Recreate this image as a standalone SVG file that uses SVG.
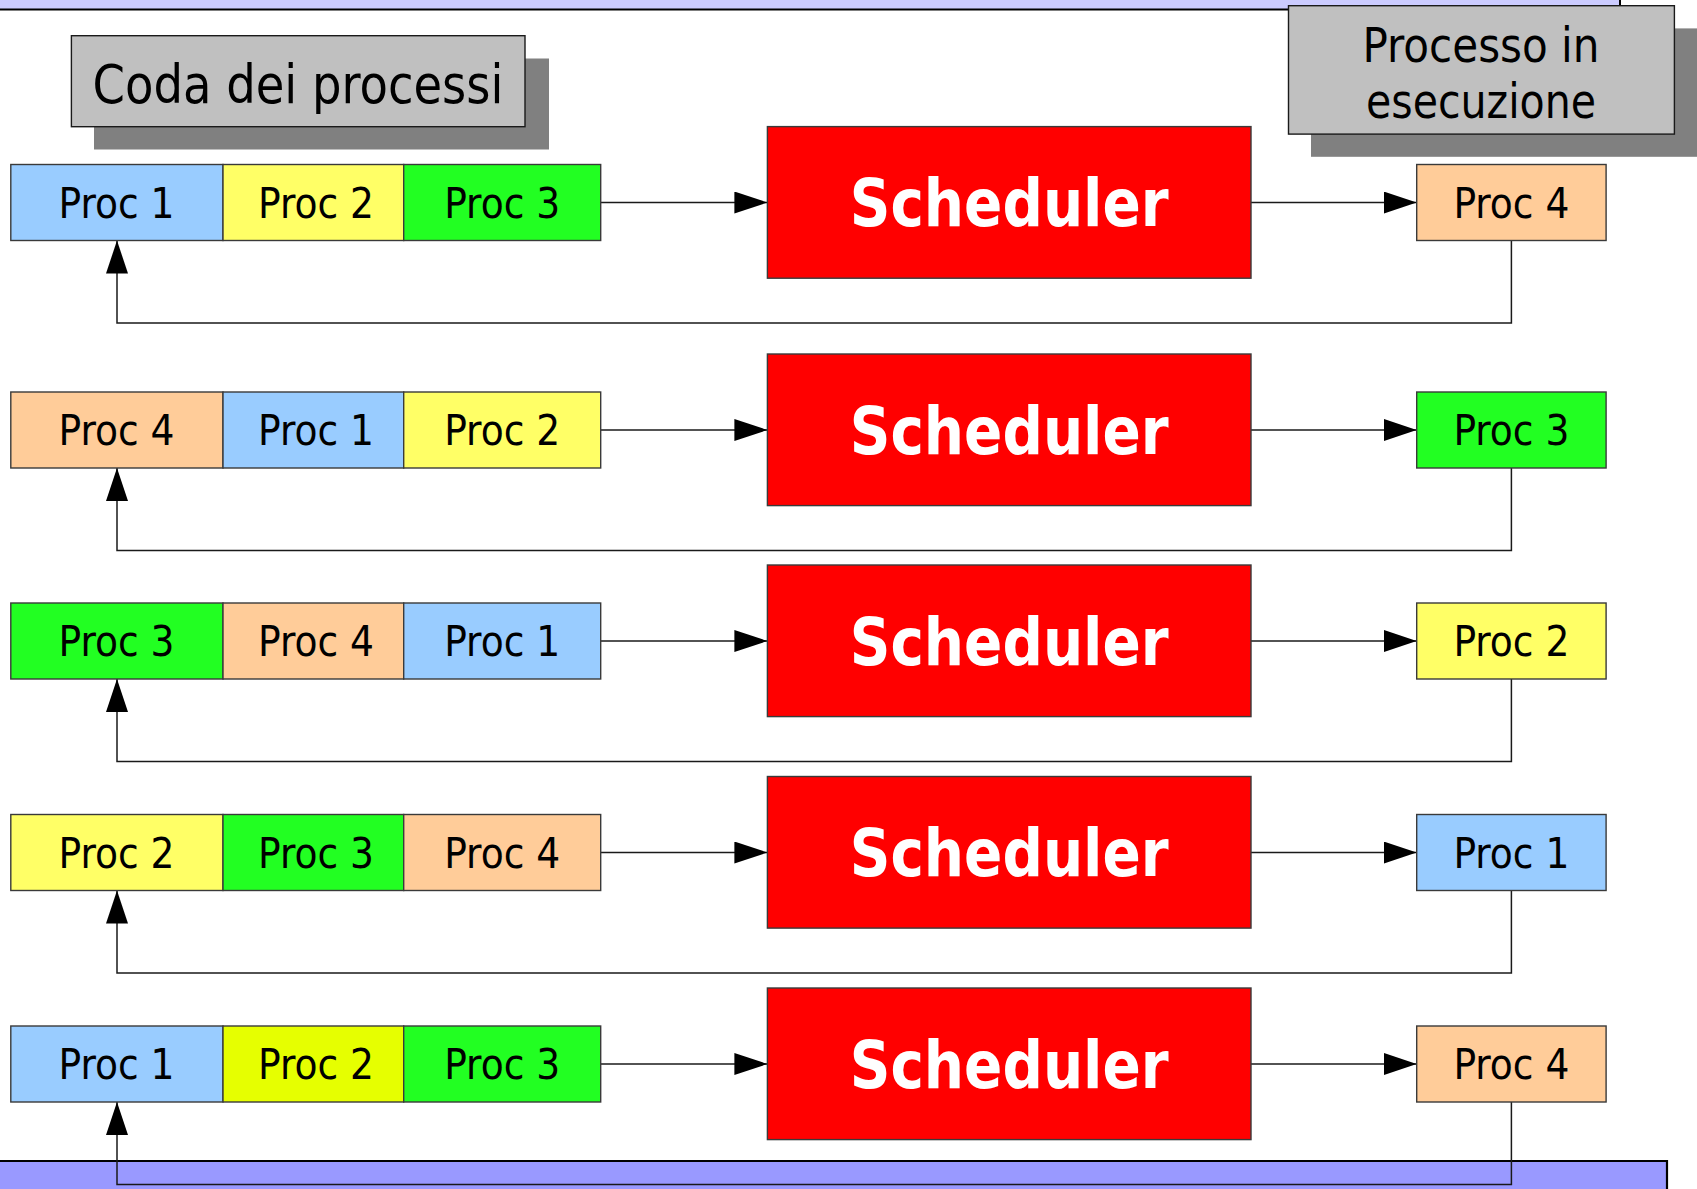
<svg xmlns="http://www.w3.org/2000/svg" width="1697" height="1189" viewBox="0 0 1697 1189">
  <style>
    .box { stroke: #3a3a3a; stroke-width: 1.4; }
    .blue { fill: #99ccff; }
    .yellow { fill: #ffff66; }
    .lime { fill: #e6ff00; }
    .green { fill: #22ff22; }
    .peach { fill: #ffcc99; }
    .sched { fill: #ff0000; stroke: #3a3a3a; stroke-width: 1.4; }
    .label { fill: #c0c0c0; stroke: #1a1a1a; stroke-width: 1.4; }
    .shadow { fill: #808080; }
    .proc { font-family: "DejaVu Sans Condensed", "DejaVu Sans", sans-serif; font-size: 42px; fill: #000; text-anchor: middle; }
    .stxt { font-family: "DejaVu Sans Condensed", "DejaVu Sans", sans-serif; font-weight: bold; font-size: 65px; fill: #fff; text-anchor: middle; }
    .ltxt { font-family: "DejaVu Sans Condensed", "DejaVu Sans", sans-serif; fill: #000; text-anchor: middle; }
    .conn { fill: none; stroke: #1a1a1a; stroke-width: 1.5; }
  </style>
  <defs>
    <marker id="arrow" markerUnits="userSpaceOnUse" markerWidth="34" markerHeight="23" refX="33" refY="11" orient="auto">
      <path d="M0,0 L33,11 L0,22 Z" fill="#000"/>
    </marker>
  </defs>

  <!-- page bands -->
  <g id="top-band">
    <rect x="0" y="0" width="1620" height="9.5" fill="#ccccff"/>
    <path d="M0,9.5 H1620 V0" fill="none" stroke="#000" stroke-width="2"/>
  </g>
  <g id="bottom-band">
    <rect x="0" y="1161" width="1667" height="28" fill="#9999ff"/>
    <path d="M0,1161 H1667 V1189" fill="none" stroke="#000" stroke-width="2.2"/>
  </g>

  <!-- titles -->
  <g id="label-coda">
    <rect class="shadow" x="94" y="58.5" width="455" height="91"/>
    <rect class="label" x="71.4" y="35.7" width="453.6" height="91"/>
    <text class="ltxt" x="298" y="103" font-size="54" textLength="411" lengthAdjust="spacingAndGlyphs">Coda dei processi</text>
  </g>
  <g id="label-esecuzione">
    <rect class="shadow" x="1311" y="28.4" width="386" height="128.4"/>
    <rect class="label" x="1288.5" y="5.7" width="385.9" height="128.4"/>
    <text class="ltxt" x="1481" y="62" font-size="48" textLength="237" lengthAdjust="spacingAndGlyphs">Processo in</text>
    <text class="ltxt" x="1481" y="117.5" font-size="48" textLength="230" lengthAdjust="spacingAndGlyphs">esecuzione</text>
  </g>

  <!-- connectors -->
  <g id="connectors">
    <path class="conn" d="M600.7,202.5 H767.4" marker-end="url(#arrow)"/>
    <path class="conn" d="M1251,202.5 H1416.7" marker-end="url(#arrow)"/>
    <path class="conn" d="M1511.4,240.5 V323 H117 V240.5" marker-end="url(#arrow)"/>

    <path class="conn" d="M600.7,430 H767.4" marker-end="url(#arrow)"/>
    <path class="conn" d="M1251,430 H1416.7" marker-end="url(#arrow)"/>
    <path class="conn" d="M1511.4,468 V550.5 H117 V468" marker-end="url(#arrow)"/>

    <path class="conn" d="M600.7,641 H767.4" marker-end="url(#arrow)"/>
    <path class="conn" d="M1251,641 H1416.7" marker-end="url(#arrow)"/>
    <path class="conn" d="M1511.4,679 V761.5 H117 V679" marker-end="url(#arrow)"/>

    <path class="conn" d="M600.7,852.5 H767.4" marker-end="url(#arrow)"/>
    <path class="conn" d="M1251,852.5 H1416.7" marker-end="url(#arrow)"/>
    <path class="conn" d="M1511.4,890.5 V973 H117 V890.5" marker-end="url(#arrow)"/>

    <path class="conn" d="M600.7,1064 H767.4" marker-end="url(#arrow)"/>
    <path class="conn" d="M1251,1064 H1416.7" marker-end="url(#arrow)"/>
    <path class="conn" d="M1511.4,1102 V1184.5 H117 V1102" marker-end="url(#arrow)"/>
  </g>

  <!-- row 1 -->
  <g id="row1-queue-proc1"><rect class="box blue" x="10.8" y="164.5" width="212.2" height="76"/><text class="proc" x="116.5" y="217.5" textLength="116" lengthAdjust="spacingAndGlyphs">Proc 1</text></g>
  <g id="row1-queue-proc2"><rect class="box yellow" x="223" y="164.5" width="180.7" height="76"/><text class="proc" x="316" y="217.5" textLength="116" lengthAdjust="spacingAndGlyphs">Proc 2</text></g>
  <g id="row1-queue-proc3"><rect class="box green" x="403.7" y="164.5" width="197" height="76"/><text class="proc" x="502.2" y="217.5" textLength="116" lengthAdjust="spacingAndGlyphs">Proc 3</text></g>
  <g id="row1-scheduler"><rect class="sched" x="767.4" y="126.6" width="483.6" height="151.6"/><text class="stxt" x="1009.2" y="226" textLength="319" lengthAdjust="spacingAndGlyphs">Scheduler</text></g>
  <g id="row1-running-proc4"><rect class="box peach" x="1416.7" y="164.5" width="189.4" height="76"/><text class="proc" x="1511.4" y="217.5" textLength="116" lengthAdjust="spacingAndGlyphs">Proc 4</text></g>

  <!-- row 2 -->
  <g id="row2-queue-proc4"><rect class="box peach" x="10.8" y="392" width="212.2" height="76"/><text class="proc" x="116.5" y="445" textLength="116" lengthAdjust="spacingAndGlyphs">Proc 4</text></g>
  <g id="row2-queue-proc1"><rect class="box blue" x="223" y="392" width="180.7" height="76"/><text class="proc" x="316" y="445" textLength="116" lengthAdjust="spacingAndGlyphs">Proc 1</text></g>
  <g id="row2-queue-proc2"><rect class="box yellow" x="403.7" y="392" width="197" height="76"/><text class="proc" x="502.2" y="445" textLength="116" lengthAdjust="spacingAndGlyphs">Proc 2</text></g>
  <g id="row2-scheduler"><rect class="sched" x="767.4" y="354" width="483.6" height="151.6"/><text class="stxt" x="1009.2" y="453.5" textLength="319" lengthAdjust="spacingAndGlyphs">Scheduler</text></g>
  <g id="row2-running-proc3"><rect class="box green" x="1416.7" y="392" width="189.4" height="76"/><text class="proc" x="1511.4" y="445" textLength="116" lengthAdjust="spacingAndGlyphs">Proc 3</text></g>

  <!-- row 3 -->
  <g id="row3-queue-proc3"><rect class="box green" x="10.8" y="603" width="212.2" height="76"/><text class="proc" x="116.5" y="656" textLength="116" lengthAdjust="spacingAndGlyphs">Proc 3</text></g>
  <g id="row3-queue-proc4"><rect class="box peach" x="223" y="603" width="180.7" height="76"/><text class="proc" x="316" y="656" textLength="116" lengthAdjust="spacingAndGlyphs">Proc 4</text></g>
  <g id="row3-queue-proc1"><rect class="box blue" x="403.7" y="603" width="197" height="76"/><text class="proc" x="502.2" y="656" textLength="116" lengthAdjust="spacingAndGlyphs">Proc 1</text></g>
  <g id="row3-scheduler"><rect class="sched" x="767.4" y="565" width="483.6" height="151.6"/><text class="stxt" x="1009.2" y="664.5" textLength="319" lengthAdjust="spacingAndGlyphs">Scheduler</text></g>
  <g id="row3-running-proc2"><rect class="box yellow" x="1416.7" y="603" width="189.4" height="76"/><text class="proc" x="1511.4" y="656" textLength="116" lengthAdjust="spacingAndGlyphs">Proc 2</text></g>

  <!-- row 4 -->
  <g id="row4-queue-proc2"><rect class="box yellow" x="10.8" y="814.5" width="212.2" height="76"/><text class="proc" x="116.5" y="867.5" textLength="116" lengthAdjust="spacingAndGlyphs">Proc 2</text></g>
  <g id="row4-queue-proc3"><rect class="box green" x="223" y="814.5" width="180.7" height="76"/><text class="proc" x="316" y="867.5" textLength="116" lengthAdjust="spacingAndGlyphs">Proc 3</text></g>
  <g id="row4-queue-proc4"><rect class="box peach" x="403.7" y="814.5" width="197" height="76"/><text class="proc" x="502.2" y="867.5" textLength="116" lengthAdjust="spacingAndGlyphs">Proc 4</text></g>
  <g id="row4-scheduler"><rect class="sched" x="767.4" y="776.5" width="483.6" height="151.6"/><text class="stxt" x="1009.2" y="876" textLength="319" lengthAdjust="spacingAndGlyphs">Scheduler</text></g>
  <g id="row4-running-proc1"><rect class="box blue" x="1416.7" y="814.5" width="189.4" height="76"/><text class="proc" x="1511.4" y="867.5" textLength="116" lengthAdjust="spacingAndGlyphs">Proc 1</text></g>

  <!-- row 5 -->
  <g id="row5-queue-proc1"><rect class="box blue" x="10.8" y="1026" width="212.2" height="76"/><text class="proc" x="116.5" y="1079" textLength="116" lengthAdjust="spacingAndGlyphs">Proc 1</text></g>
  <g id="row5-queue-proc2"><rect class="box lime" x="223" y="1026" width="180.7" height="76"/><text class="proc" x="316" y="1079" textLength="116" lengthAdjust="spacingAndGlyphs">Proc 2</text></g>
  <g id="row5-queue-proc3"><rect class="box green" x="403.7" y="1026" width="197" height="76"/><text class="proc" x="502.2" y="1079" textLength="116" lengthAdjust="spacingAndGlyphs">Proc 3</text></g>
  <g id="row5-scheduler"><rect class="sched" x="767.4" y="988" width="483.6" height="151.6"/><text class="stxt" x="1009.2" y="1087.5" textLength="319" lengthAdjust="spacingAndGlyphs">Scheduler</text></g>
  <g id="row5-running-proc4"><rect class="box peach" x="1416.7" y="1026" width="189.4" height="76"/><text class="proc" x="1511.4" y="1079" textLength="116" lengthAdjust="spacingAndGlyphs">Proc 4</text></g>
</svg>
